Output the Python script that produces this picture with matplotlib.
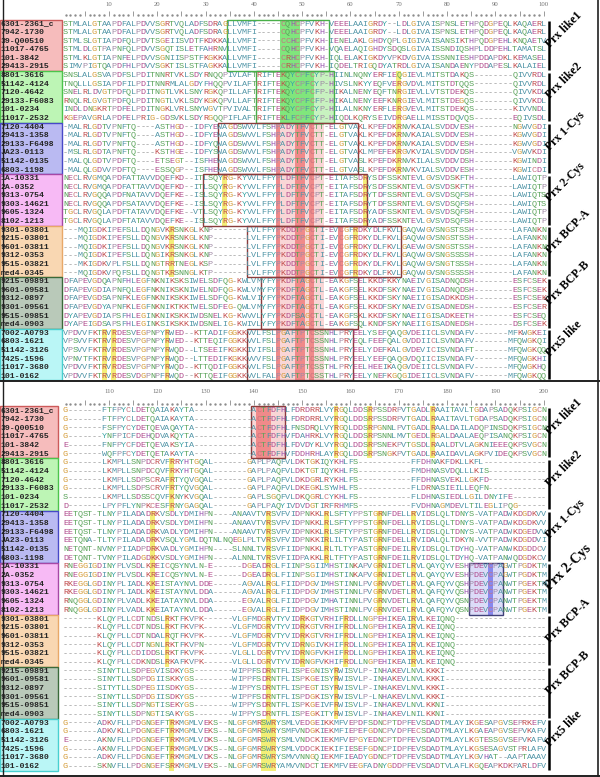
import matplotlib
matplotlib.use('Agg')
import matplotlib.pyplot as plt
from matplotlib.patches import Rectangle
from matplotlib.lines import Line2D
from matplotlib.transforms import blended_transform_factory

groups = ['Prx like1', 'Prx like2', 'Prx 1-Cys', 'Prx 2-Cys',
          'Prx BCP-A', 'Prx BCP-B', 'Prx5 like']
rows_per_group = 6

names = [
    '6301-2361_c', '7942-1730', '39-Q00510', '11017-4765', '101-3842', '29413-2915',
    '8801-3616', '51142-4124', '7120-4642', '29133-F6083', '101-0234', '11017-2532',
    '7120-4404', '29413-1358', '29133-F6498', 'JA23-0113', '51142-0135', '6803-1198',
    '1A-10331', '2A-0352', '9313-0754', '9303-14621', '9605-1324', '8102-1213',
    '9301-03801', '9215-03801', '9601-03811', '9312-0353', '9515-03821', 'med4-0345',
    '9215-09891', '9601-09581', '9312-0897', '9301-09561', '9515-09851', 'med4-0903',
    '7002-A0793', '6803-1621', '51142-3126', '7425-1596', '11017-3680', '101-0162',
]

# columns 1-100
top_seqs = [
    'STMLALGTAAPDFALPDVVSGRTVQLADFSDRAGLLVMFI-----CQHC' 'PFVKH-VEEELAAIGRDY--LDLGIVAISPNSLETHPQDGPEQLKAQAERL',
    'STMLALGTAAPDFALPDVVSGRTVQLADFSDRAGLLVMFI-----CQHC' 'PFVKH-VEEELAAIGRDY--LDLGIVAISPNSLETHPQDGPEQLKAQAERL',
    'STMLSLGTIAPDFQLPDVTSGEIISVDTFKDKKALLVMFI-----CCHC' 'PFVKH-IENELAKLGHDYQPLGIGIVAISANSIKTHPQDGPEHLKNQAETV',
    'STMLDLGTPAPNFQLPDVVSGQTISLETFAHRNVLLVMFI-----CQHC' 'PFVKH-VQAELAQIGHDYSDQSLGIVAISSNDIQSHPLDDPEHLTAMATSL',
    'STMLKLGTIAPNFELPDVVSGNIISPSTFKGKKALLVMFI-----CRHC' 'PFVKH-IQLELAKIGKDYVPKDVGIVAISSNNIESHPDDAPDKLKEMASEL',
    'SIMVPIGTQAPDFHLPDVVSGKTISLSTFAGKKALLVMFI-----CRHC' 'PFVKH-IQDELTRIGQDYATRDLGIVAISANDAENYPDDAPESLKALAIEL',
    'SNSLALGSVAPDFSLPDITNNRTVKLSDYRNQQPIVLAFTRIFTEKQYC' 'PFCYP-HIINLNQNYERFIEQGIEVLMITSTDAKQS--------QIVVRDL',
    'TNQLLLGSIAPDFILPDITNNRMLALGDYFHQQPVILAFTRIFTEKQYC' 'PFCYP-HIVSLNKYYEQFVERGVDVLMITSTDTQQS--------QIVVRDL',
    'SNELRLDVGTPDFQLPDITNGTLVKLSNYRGKQPILLAFTRIFTEKQYC' 'PFCFP-HIKALNENYEQFTNRGIEVLLVTSTDEKQS--------QIVVKDL',
    'RNQLRLGVGTPDFQLPDITNGTLVKLSDYKGKQPVLLAFTRIFTEKQYC' 'PFCFP-HIKALNENYEEFKNRGIEVLMITSTDEGQS--------QIVVKDL',
    'INDLDNGKRTPDFELPDITNGKLVRLSNYWGVTPVIVALTRIFTEKQYC' 'PFCYP-HILALNKNYERFLERGVEVLMITSTDEKQS--------KIVVNDL',
    'KGEPAVGRLAPDFELPRIG-GDSVKLSDYRGQQPIFLAFTRIFTEKLFC' 'PFCYP-HIQDLKQRYSEIVDRGAELLMISSTDQVQS--------EQIVSDL',
    '-MALRLGDTVPNFTQ----ASTHGD--IDFYEWAGDSWVVLFSHPADYT' 'FVCTT-ELGTVAKLKPEFDKRNVKAIALSVDDVESH--------NGWVGDI',
    '-MALRLGDTVPNFTQ----ASTHGD--IDFYEWAGDSWVVLFSHPADYT' 'FVCTT-ELGTVAKLKPEFDKRNVKAIALSVDDVESH--------KGWVGDI',
    '-MALRLGDTVPNFTQ----ASTHGD--IDFYQWAGDSWVVLFSHPADYT' 'FVCTT-ELGTVAKLKPEFDKRNVKAIALSVDDVESH--------KGWVGDI',
    '-MSLRLGDTAPNFTQ----KSTHGE--IDFYSWAGDSWVVLFSHPADYT' 'FVCTT-ELGTVAKLMPEFEKRGVKVIALSVDDVDSH--------VGWVKDI',
    '-MALQLGDTVPDFTQ----ETSEGT--ISFHEWAGDSWVVLFSHPADYT' 'FVCTT-ELGTVASLKPEFDKRNVKILALSVDDVDSH--------KGWINDI',
    '-MALQLGDVVPDFTQ----ESSQGP--ISFHEWAGDSWVVLFSHPADYT' 'FVCTT-ELGTVASLKPEFDKRNVKVIALSVDDVESH--------KGWICDI',
    'NECLRVGMQAPDFATTAVVDQEFKD--ITLSQYRG-KYVVLFFYPLDFT' 'FVCPT-EITAFSDRYSDFSSKNTEVLGVSVDSKFTH--------LAWIQTP',
    'NECLRVGMQAPDFATTAVVDQEFKD--ITLSQYRG-KYVVLFFYPLDFT' 'FVCPT-EITAFSDRYSDFSSKNTEVLGVSVDSKFTH--------LAWIQTP',
    'NECLRVGQQAPDFNATAVVDQEFKE--ISLSQYRG-KYVVLFFYPLDFT' 'FVCPT-EITAFSDRYTDFSSRNTEVLGVSVDSQFSH--------LAWIQTS',
    'NECLRVGQQAPDFSATAVVDQEFKE--ISLSQYRG-KYVVLFFYPLDFT' 'FVCPT-EITAFSDRYTDFSSRNTEVLGVSVDSQFSH--------LAWIQTS',
    'TGCLRVGQLAPDFTATAVVDQEFKE--VTLSQYRG-KYVVLFFYPLDFT' 'FVCPT-EITAFSDRYADFSSKNTEVLGVSVDSQFSH--------LAWIQTP',
    'TGCLRVGQLAPDFTATAVVDQEFKE--ISLSQYRG-KYVVLFFYPLDFT' 'FVCPT-EITAFSDRYADFSSKNTEVLGVSVDSQFSH--------LAWIQTP',
    '---MQIGDKIPEFSLLDQNGVKRSNKGLKNP-------LVLFFYPKDDT' 'PGCTI-EVCGFRDKYDLFKVLGAQVWGVSNGSTSSH--------LAFANKN',
    '---MQIGDKIPEFSLLDQNGVKRSNKGLKNP-------LVLFFYPKDDT' 'PGCTI-EVCGFRDKYDLFKVLGAQVWGVSNGSTSSH--------LAFANKN',
    '---MQIGDKIPEFSLLDQNGVKRSNKGLKNP-------LVLFFYPKDDT' 'PGCTI-EVCGFRDKYDLFKVLGAEVWGVSNGSTSSH--------LAFANKN',
    '---MQIGDKIPEFSLLDQNGIKRSNKGLKNP-------LVLFFYPKDDT' 'PGCTI-EVCGFRDKYDLFKVLGAQVWGVSNGSSSSH--------LAFANKN',
    '---MKIGDKVPLFSLLDQNGTRRTNEGLKSP-------LVLFFYPKDDT' 'PGCTI-EVCGFRDKYDLFKVLGAQVWGVSNGTSSSH--------LAFANKN',
    '---MQIGDKVPQFSLLDQNGTKRSNNGLKTP-------LVLFFYPKDDT' 'PGCTI-EVCGFRDKYDLFKVLGAQVWGVSNGSSSSH--------LAFANKN',
    'DFAPEVGDQAPNFHLEGFNKNIKSKSIWELSDFQG-KWLVMYFYPKDFT' 'AGCTL-EAKGFSELKKDFKKYNAEIVGISADNQDSH--------ESFCSEK',
    'DFAPEVGDIAPNFQLEGFNKNIKSKNIWELNDFQG-KWLVMYFYPKDFT' 'AGCTL-EAKGFSELKKDFSKYNAEIVGISADNQDSH--------ESFCSEK',
    'DFAPEVGDSAPNFKLEGFNKNIKSKKIWELSDFQG-KWLVIYFYPKDFT' 'AGCTL-EAKGFSELKKDFSKYNAEIIGISADKKDSH--------ESFCSEK',
    'DFAPEVGDYAPNFKLEGFNKNIKTKKTWELSDFEG-QWLVMYFYPKDFT' 'AGCTL-EAKGFSELKKDFSKYNAEIVGISADNEDSH--------ESFCSER',
    'DYAPEVGDIAPSFHLEGINKNIKSKKIWDSNELKG-KWVVLYFYPKDFS' 'AGCTL-EAKGFSKLKKDFSKYNAEIIGISADKEETH--------ESFCSEQ',
    'DYAPEIGDSAPSFHLEGINKSIKSKKIWDSNELIG-KWIVLYFYPKDFT' 'AGCTL-EAKGFSQLKNDFSKYNAEIIGISADNEDSH--------DSFCSEK',
    'VPDVVFKTRVRDESVEGPNPYRWED--KTTADIFGGKKVVLFSLPGAFT' 'PTCSSNHLPRYEELYSEFQAQGVDEIICLSVNDAFV-------MFKWGKEI',
    'VPSVVFKTRVRDESVPGPNPYRWED--KTTEQIFGGKKVVLFSLPGAFT' 'PTCSSNHLPRYEQLFEEFQALGVDDIICLSVNDAFV-------MFQWGKQI',
    'VPSVVFKTRVRDESVPGPNPYRWQD--LTSEEIFKGKKIVIFSLPGAFT' 'PTCSSNHLPRYEELYDEFKALGVDEVICISVNDAFT-------MFQWGKQQ',
    'VPNVTFKTRVRDESVPGPNPYRWQD--LTTEDIFKGKKVVVFSLPGAFT' 'PTCSSNHLPRYEELYEEFQAQGVDQIICISVNDAFV-------MFQWGKHI',
    'VPDVVFKTRVRDESVPGPNPYRWQD--KTTQDIFGGKKVVLFSLPGAFT' 'PTCSSTHLPRYEELHEEIKAQGVDEIICLSVNDAFV-------MFQWGKHQ',
    'VPDVVFKTRVRDESVDGPNPFRWQD--KTTQEIFGGKKVVLFALPGAFT' 'PTCSSTHLPRYEELYNEFKGQGIDEIICLSVNDAFV-------MFQWGKQQ',
]

# columns 101-200
bottom_seqs = [
    'G-------FTFPYCLDETQAIAKAYTA------------ACTFDFHLFD' 'RDRRLVYRGQLDDSRPSSDRPVTGADLRAAITAVLTGDAPSADQKPSIGCN',
    'G-------FTFPYCLDETQAIAKAYTA------------ACTFDFHLFD' 'RDRRLVYRGQLDDSRPSSDRPVTGADLRAAITAVLTGDAPSADQKPSIGCN',
    'G-------FSFPYCYDETQEVAQAYTA------------ACTFDFHLFN' 'SDRQLVYRGQLDDSRPGNNLPVTGADLRAALDAILADQPINSDQKPSIGCN',
    'G-------YNFPICFDEHQDVAKQYTA------------ACTFDFHVFD' 'AHRKLVYRGQLDDSRPSNNLMVTGEDLRGALDAALAEQPISANQKPSIGCN',
    'E-------FNFPYCFDETQEVAKSYIA------------ACTFDFHLFD' 'VDYKLVYRGQLDDSRPSNEKPVTGSDLRAALDTVLAGKNIEEEQKPSVGCN',
    'G-------WQFPFCYDETQETAKAYTA------------ACTFDFHVFD' 'DHRHLAYRGQLDDSRPSNGKPVTGADLRAAIDAVLAGKPVIDEQKPSVGCN',
    'G-------LKMPLLSNPDCRVFRRYHTGQAL-------GAPLPAQFVLD' 'KTGKIQYKHLFS-----------FFDHNAKFDKLLKFL-------------',
    'G-------LKMPLLSNPDCQVFRKYHTGQAL-------GAPLPAQFVLD' 'KTGTIQYKHLFS-----------FMDHNASVDQLLLKIS------------',
    'G-------LKMPLLSDPSCRAFRTYQVGQAL-------GAPLPAQFVLD' 'KDGRLRYKHLFS-----------FFDHNASVEKLLGKFD------------',
    'G-------LKMPLLSDPSCRVFRTYQVGQAL-------GAPLPAQFVLD' 'KEGKLSYWHLFS-----------FLDRNASIEILLEQFN------------',
    'S-------LKMPLLSDSSCQVFKNYKVGQAL-------GAPLSGQFVLD' 'KQGRLCYKHLFS-----------FLDHNASIEDLLGILDNYIFE-------',
    'D-------LPYPFLYNPKCESFRNYGAGQAL-------GAPLPAQYIVD' 'VDGTIRFRHMFS-----------FVDHNAGMDEVLTILEGLIPQG------',
    'EETQST-TLNYPILADADRKVSDLYDMIHPN----ANAAVTVRSVFVID' 'PNKKLRLSFTYPPSTGRNFDELLRVIDSLQLTDNYS-VATPADWKDGDKVV',
    'EETQST-TLNYPILADADRKVSDLYDMIHPN----ANAAVTVRSVFVID' 'PNKKLRLSFTYPPSTGRNFDELLRVIDSLQLTDNYS-VATPADWKDGDKVV',
    'EETQST-TLNYPILADADRKVADLYDMIHPN----ANAAVTVRSVFVID' 'PNKKLRLSFTYPPSTGRNFDELLRVIDSLQLTDNYS-VATPADWKDGEDVV',
    'EETQNA-TLTYPILADADRKVSQLYGMLDQTNLNQEGLPLTVRSVFVID' 'PNKKIRLILTYPASTGRNFDELLRVIDALQLTDKYN-VVTPADWKDGDDVI',
    'NETQNT-NVNYPIIADPDRKVADLYGMIHPN----SLNNLTVRSVFIID' 'PNKKLRLTLTYPASTGRNFDEILRVIDSLQLTDYHQ-VATPANWKDGDDCV',
    'DETQNT-TVNYPILADGDKKVSDLYGMIHPN----ALNNLTVRSVFIID' 'PAKKLRLTFTYPASTGRNFDEILRVIDSLQLTDYHQ-VATPANWQDGDKCV',
    'RNEGGIGDINYPLVSDLKREICQSYNVLN-E------DGEADRGLFIIN' 'PSGIIMHSTINKAPVGRNIDETLRVLQAYQYVESHPDEVCPAGWTPGDKTM',
    'RNEGGIGDINYPLVSDLKREICQSYNVLN-E------DGEADRGLFIIN' 'PSGIIMHSTINKAPVGRNIDETLRVLQAYQYVESHPDEVCPAGWTPGDKTM',
    'RKEGGLGDINYPLIADLKKEISTAYNVLDDE------AGVALRGLFIID' 'PDGVIMHSTINNLPVGRNVDETLRVLQAFQYVQSHPDEVCPANWTPGEKTM',
    'RKEGGLGDINYPLIADLKKEISTAYNVLDDA------AGVALRGLFIID' 'PDGVIMHSTINNLPVGRNVDETLRVLQAFQYVQSHPDEVCPANWTPGEKTM',
    'RNQGGLGDINYPLVADLKKEIATAYNVLDDA------EGVALRGLFIID' 'PDGVIMHATINNLPVGRNVDETLRVLQAFQYVQSNPDEVCPANWTPGEKTM',
    'RNQGGLGDINYPLVADLKKEIATAYNVLDDA------EGVALRGLFIID' 'PDGVIMHSTINNLPVGRNVDETLRVLQAFQYVQSNPDEVCPANWTPGEKTM',
    '-------KLQYPLLCDTNDSLRKTFKVPK------VLGFMDGRVTYVID' 'RKGTVRHIFRDLLNGPEHIKEAIRVLKEIQNQ-------------------',
    '-------KLQYPLLCDTNDSLRKTFKVPK------VLGFMDGRVTYVID' 'RKGTVRHIFRDLLNGPEHIKEAIRVLKEIQNQ-------------------',
    '-------KLQYPLLCDTNDALRQTFKVPK------VLGFMDGRVTYVID' 'RKGTVRHIFRDLLNGPEHIKEAIRVLKEIQNQ-------------------',
    '-------KLQYPLLCDTNGNLRKTFKVPN------VLGFMDGRVTYVID' 'RNGIVKHIFRDLLNGPEHIKEAIRVLKEIQNQ-------------------',
    '-------KLQYPLLCDIDDSLRKTFKVPK------VLGLLDGRVTYVID' 'RNGFVKHIFRDLLNGPEHIKEAIRVLKEIQNQ-------------------',
    '-------KLQYPLLCDKNDSLRKAFKVPK------VLGLLDGRVTYVID' 'RNGFVKHIFRDLLNGPEHIKEAIRVLKEIQNQ-------------------',
    '-------SINYTLLSDPEGVISDKYGS--------WIPPFSDRNTFLIS' 'PEGNISYRWISVLP-INHAKEVLNVLKKKI---------------------',
    '-------SINYTLLSDPDGIISKKYGS--------WIPPFSDRNTFLIS' 'PKGEISYRWISVLP-INHAKEVLNVLKKKI---------------------',
    '-------SITYTLLSDPEGIISDKYGS--------WIPPYSDRNTFLIS' 'PEGTISYRWISVLP-INHAKEVLNVLKKKI---------------------',
    '-------SINYTLLSDPDGIISDKYGS--------WIPPFSDRNTFLIS' 'PDGKISYRWISVLP-LNHAKEVLNVLKKKI---------------------',
    '-------SINYTLLSDPNGTISEKYGS--------WIPPYSDRNTFLIS' 'PKGEIVFRWISVLP-INHAKEVLNVLKKNI---------------------',
    '-------SINYTLLSDPNGTISAKYGS--------WIPPYSDRNTFLIS' 'PEGKITYRWISVLP-INHAKEVLNILKKNI---------------------',
    'G------ADKVFLLPDGNGEFTRKMGMLVEKS--NLGFGMRSWRYSMLV' 'EDGEIKKMFVEPDFSDNCPTDPFEVSDADTMLAYIKGESAPGVSEPRKEFV',
    'G------ADKVKLLPDGNGEFTRKMGMLVEKS--NLGFGMRSWRYSMFV' 'NDGKIEKMFIEPEFGDNCPVDPFECSDADTMLAYLKGAEAPGVSEPVKAFV',
    'E------AKNVFLLPDGNGEFTRKMGMLVDKS--NLGFGMRSWRYSMLV' 'NDCKIEKMFVEPGYEDNCPTDPFEVSDADTMLAYLKGTESSGVSEPVKAFV',
    'G------AKNVFLLPDGNGEFTRKMGMLVDKS--NLGFGMRSWRYSMLV' 'DDCKIEKIFIESEFGDNCPIDPFEVSDADTMLAYLKGSESAGVSTPRLAFV',
    'G------ADKVFLLPDGNGEFTRKMGMLVDKS--NLGFGMRSWRYSMVV' 'NNGQIEKMFIEADYGDNCPTDPFEVSDADTMLAYLKGVHAT--AAPTAAAV',
    'G------SKNVFLLPDGNGEFSRKMGMLVEKS--NLGFGMRSWRYAMVV' 'NDCTIEKMFVEEGFADNYGDDPFEVSDADTVLAFLKGQEAPKDKPARLDFV',
]

# shaded columns: (group, first column, last column, shade)
top_fills = [
    (0, 46, 49, 'green'),
    (1, 53, 56, 'green_light'), (1, 46, 52, 'green'), (1, 70, 70, 'yellow'),
    (2, 45, 54, 'pink'), (2, 45, 45, 'red'), (2, 49, 50, 'red'), (2, 52, 52, 'red'), (2, 70, 70, 'yellow'),
    (3, 45, 54, 'pink'), (3, 45, 45, 'red'), (3, 49, 50, 'red'), (3, 52, 52, 'red'),
    (3, 34, 34, 'yellow'), (3, 63, 63, 'yellow'),
    (4, 45, 54, 'pink'), (4, 45, 45, 'red'), (4, 49, 50, 'red'), (4, 52, 52, 'red'), (4, 58, 58, 'red'),
    (4, 23, 23, 'yellow'), (4, 61, 61, 'yellow'),
    (5, 45, 54, 'pink'), (5, 45, 45, 'red'), (5, 49, 50, 'red'), (5, 52, 52, 'red'),
    (6, 45, 54, 'pink'), (6, 45, 45, 'red'), (6, 49, 50, 'red'), (6, 52, 52, 'red'),
    (6, 9, 9, 'yellow'), (6, 11, 11, 'yellow'), (6, 22, 22, 'yellow'),
]
top_boxes = [(0, 35, 55, 'green'), (1, 41, 56, 'green'), (2, 33, 61, 'red'),
             (3, 30, 63, 'red'), (4, 39, 70, 'red'), (5, 42, 61, 'red'), (6, 39, 60, 'red')]

bottom_fills = [
    (0, 140, 146, 'pink'), (0, 141, 143, 'red'),
    (0, 157, 157, 'yellow'), (0, 164, 164, 'yellow'), (0, 177, 177, 'yellow'),
    (1, 123, 123, 'yellow'),
    (2, 119, 119, 'yellow'), (2, 143, 143, 'yellow'), (2, 155, 155, 'yellow'),
    (2, 166, 166, 'yellow'), (2, 173, 173, 'yellow'),
    (3, 119, 119, 'yellow'), (3, 143, 143, 'yellow'), (3, 166, 166, 'yellow'), (3, 173, 173, 'yellow'),
    (3, 185, 191, 'blue_light'), (3, 189, 189, 'blue'),
    (4, 122, 122, 'yellow'), (4, 143, 143, 'yellow'), (4, 150, 150, 'yellow'),
    (4, 159, 159, 'yellow'), (4, 173, 173, 'yellow'),
    (5, 143, 143, 'yellow'), (5, 157, 157, 'yellow'),
    (6, 123, 123, 'yellow'), (6, 142, 144, 'yellow'),
]
bottom_boxes = [(0, 140, 146, 'red'), (3, 185, 191, 'blue')]

label_fill = ['#f6bcbc', '#bdf5b5', '#babaf2', '#f7baf5', '#f9d7b2', '#b9c9b9', '#baf6f6']
label_edge = ['#cc5a5a', '#4cc44c', '#4848c8', '#a648a6', '#e8a868', '#3a6a3a', '#48d0d0']

aa_color = {}
for ch in 'AILMFWV':
    aa_color[ch] = '#4f94a6'
for ch in 'KR':
    aa_color[ch] = '#c04a4a'
for ch in 'DE':
    aa_color[ch] = '#b04a8c'
for ch in 'STNQ':
    aa_color[ch] = '#58a258'
aa_color.update({'G': '#d49a34', 'P': '#a08aa6', 'H': '#9a58b0', 'Y': '#3aa6a6',
                 'C': '#c87480', '-': '#8a8a8a'})

shade = {'red': '#f08a8a', 'pink': '#f9d6d6', 'yellow': '#f4ee78',
         'green': '#80e67c', 'green_light': '#c8f2c0',
         'blue': '#8888ee', 'blue_light': '#dcdcf8'}
box_color = {'red': '#8b3c3c', 'green': '#48b048', 'blue': '#404078'}

# ---------------- layout (pixels of the 600x777 figure) ----------------
W, H = 600, 777
PITCH = 4.83
COL1_X = 65.5

fig = plt.figure(figsize=(6, 7.77), dpi=100)
fig.patch.set_facecolor('white')


def block_axes(top_px, bottom_px, row1_px, row_pitch):
    ax = fig.add_axes([0, 1 - bottom_px / H, 1, (bottom_px - top_px) / H])
    ax.set_xlim(1 - COL1_X / PITCH, 1 + (W - COL1_X) / PITCH)
    ax.set_ylim(1 + (bottom_px - row1_px) / row_pitch, 1 + (top_px - row1_px) / row_pitch)
    ax.axis('off')
    return ax


def draw_block(ax, seqs, offset, fills, boxes, num_row, tick_row, box_w, title_sizes):
    bl = blended_transform_factory(ax.transAxes, ax.transData)

    # ruler
    cols = list(range(1, 101))
    dots = [c for c in cols if c % 5]
    bars = [c for c in cols if c % 5 == 0]
    ax.plot(dots, [tick_row + 0.2] * len(dots), ls='none', marker='o', ms=0.7, color='#8a8a8a')
    ax.vlines(bars, tick_row - 0.2, tick_row + 0.3, color='#8a8a8a', lw=0.6)
    for c in range(10, 101, 10):
        ax.text(c, num_row, str(c + offset), ha='center', va='center', fontsize=4.8,
                family='Liberation Serif', color='#707070')

    # shading
    for g, c0, c1, kind in fills:
        r0 = g * rows_per_group + 1
        ax.add_patch(Rectangle((c0 - offset - 0.5, r0 - 0.5), c1 - c0 + 1, rows_per_group,
                               facecolor=shade[kind], edgecolor='none', zorder=1))
    for g, c0, c1, kind in boxes:
        r0 = g * rows_per_group + 1
        ax.add_patch(Rectangle((c0 - offset - 0.5, r0 - 0.5), c1 - c0 + 1, rows_per_group,
                               facecolor='none', edgecolor=box_color[kind], lw=1.0, zorder=3))

    # sequences
    for i, s in enumerate(seqs):
        s = s[:100].ljust(100, '-')
        r = i + 1
        for j, ch in enumerate(s):
            ax.text(j + 1, r, ch, ha='center', va='center', fontsize=6.1,
                    family='Liberation Mono', color=aa_color.get(ch, '#666666'), zorder=4)

    # names, group boxes, brackets, group titles
    for g, title in enumerate(groups):
        r0 = g * rows_per_group + 1
        r1 = r0 + rows_per_group - 1
        ax.add_patch(Rectangle((0, r0 - 0.5), box_w / W, rows_per_group, transform=bl,
                               facecolor=label_fill[g], edgecolor=label_edge[g], lw=1.0, zorder=2))
        for k in range(rows_per_group):
            ax.text(0.8 / W, r0 + k, names[r0 - 1 + k], transform=bl, ha='left', va='center',
                    fontsize=5.9, family='Liberation Mono', fontweight='bold', color='#262626', zorder=4)
        ax.vlines(101.1, r0 - 0.35, r1 + 0.35, color='black', lw=1.8)
        mid = (r0 + r1) / 2 + 0.5
        ax.text(101.8, mid, title, rotation=45, rotation_mode='anchor', ha='left', va='bottom',
                fontsize=title_sizes[g], family='Liberation Serif', fontweight='bold', color='black')


ax_top = block_axes(0, 381, 24, 8.59)
draw_block(ax_top, top_seqs, 0, top_fills, top_boxes,
           num_row=1 + (4 - 24) / 8.59, tick_row=1 + (13 - 24) / 8.59,
           box_w=62, title_sizes=[8.5] * 7)

ax_bot = block_axes(381, 777, 410.7, 8.68)
draw_block(ax_bot, bottom_seqs, 100, bottom_fills, bottom_boxes,
           num_row=1 + (392 - 410.7) / 8.68, tick_row=1 + (402 - 410.7) / 8.68,
           box_w=58, title_sizes=[8.5, 8.5, 8.5, 10, 8.5, 8.5, 8.5])

# frame
for xs, ys, lw in [([2.5, 2.5], [0, 776], 1.0), ([598, 598], [0, 776], 1.2),
                   ([0, 600], [381, 381], 1.4), ([0, 600], [776, 776], 1.4)]:
    fig.add_artist(Line2D([x / W for x in xs], [1 - y / H for y in ys],
                          transform=fig.transFigure, color='#202020', lw=lw))

fig.savefig('out.png', dpi=100, facecolor='white')
